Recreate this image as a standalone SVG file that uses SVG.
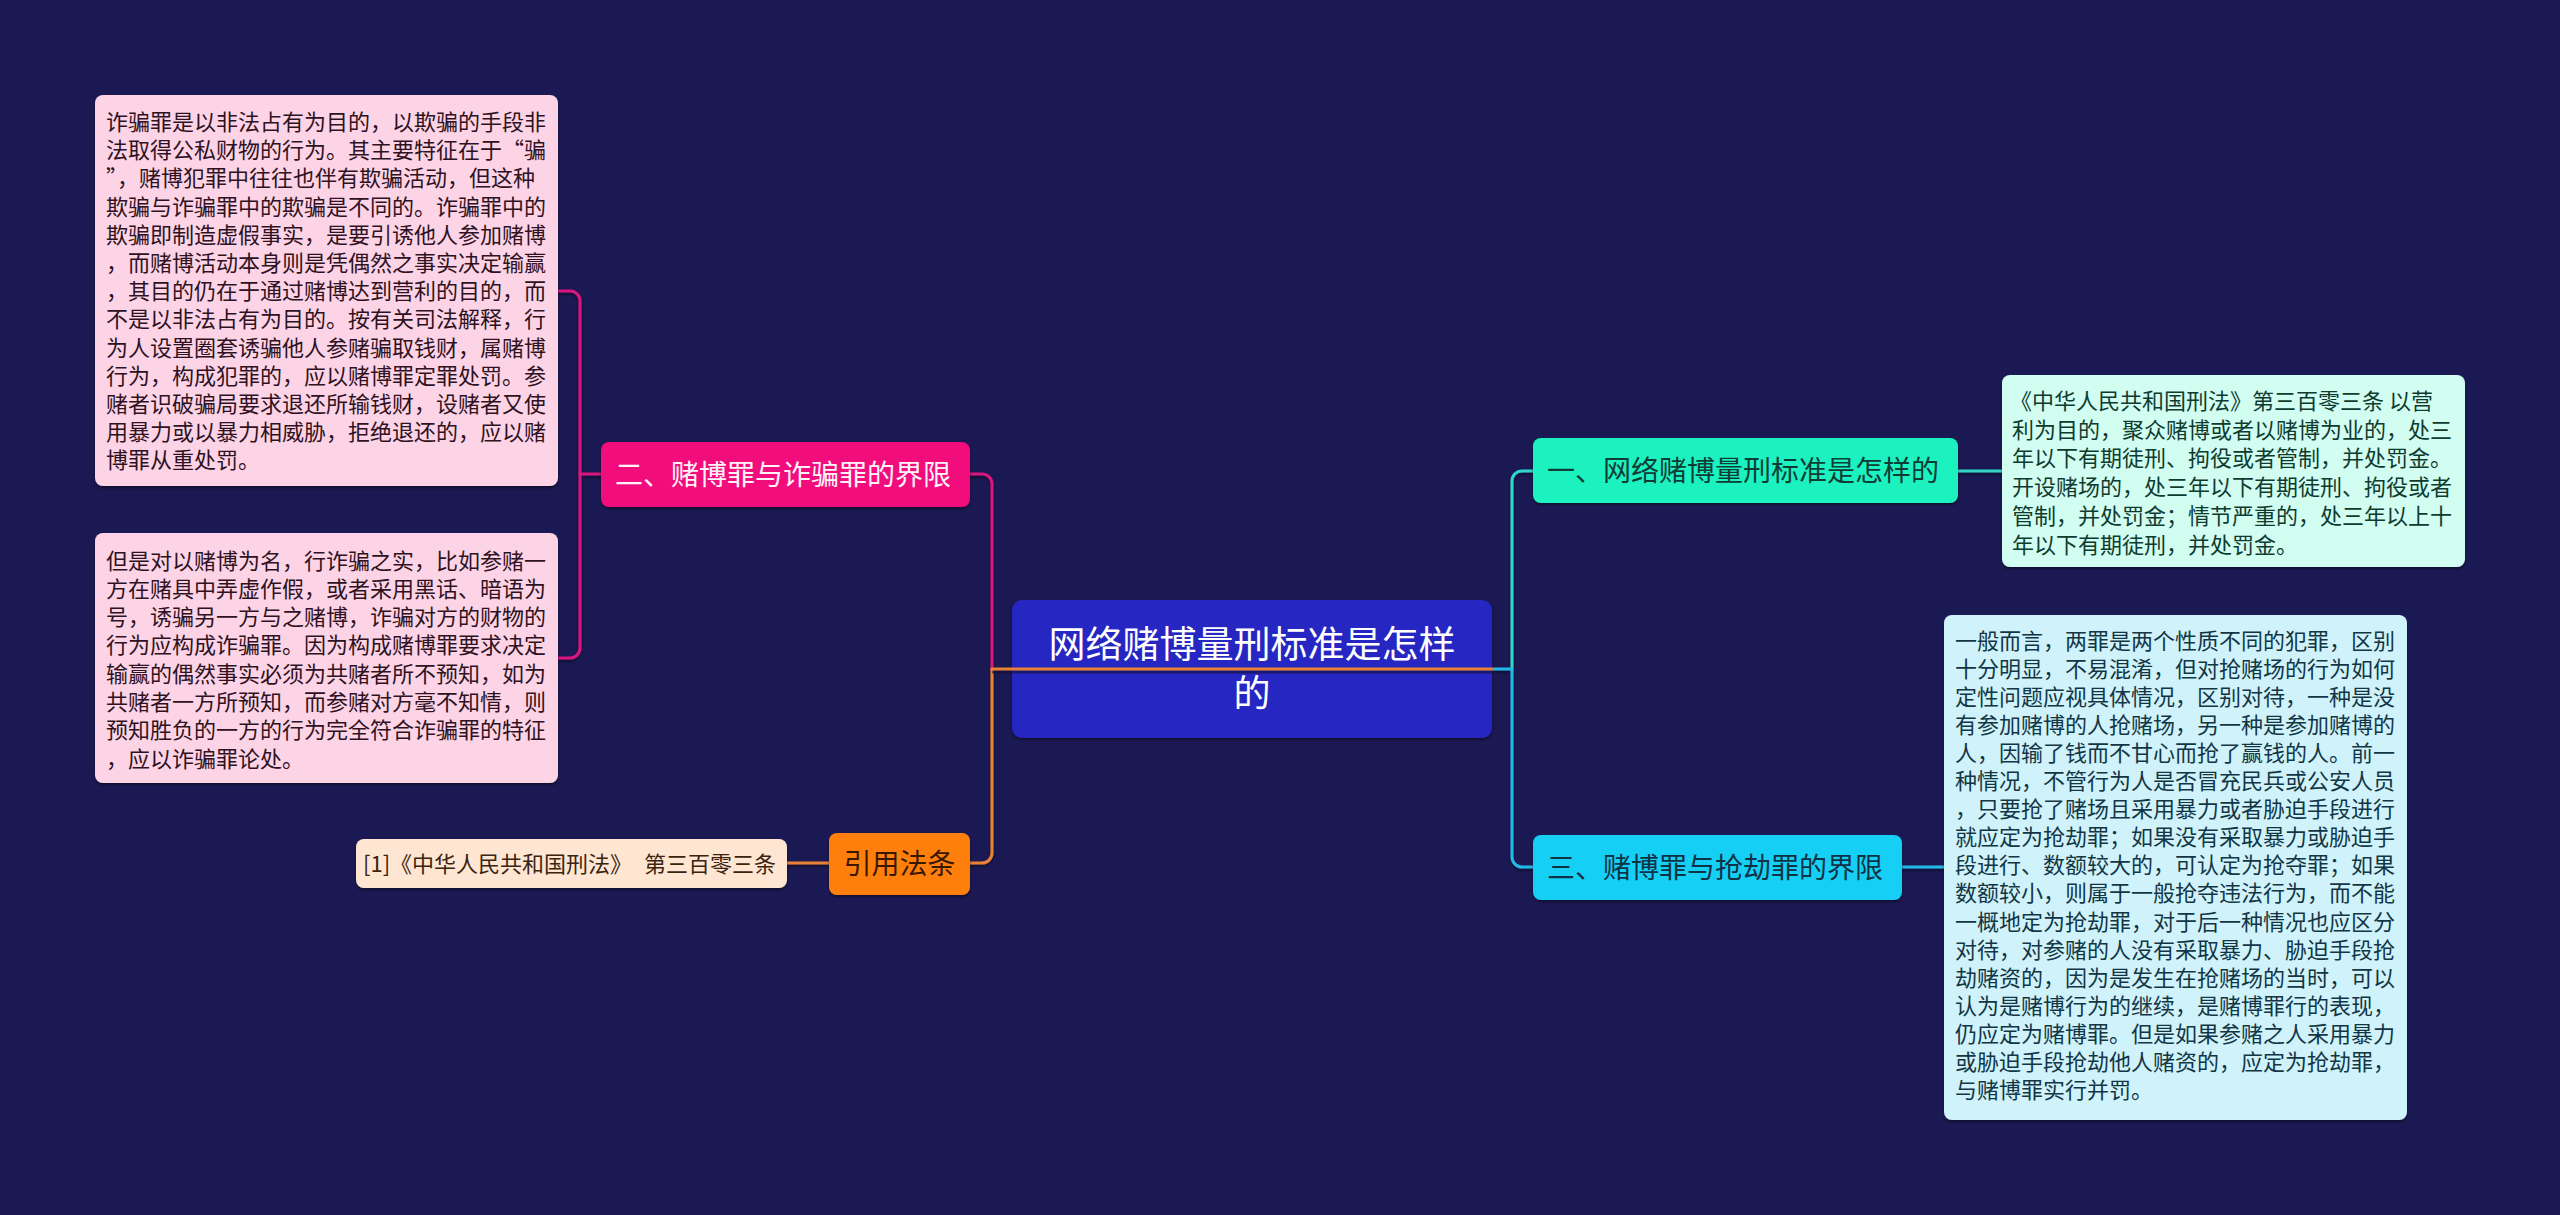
<svg xmlns="http://www.w3.org/2000/svg" width="2560" height="1215" viewBox="0 0 2560 1215">
<style>
text{font-family:"Noto Sans CJK SC","Noto Sans",sans-serif}
.leaf{font-size:22px}
.node{font-size:28px}
.ln{fill:none;stroke-width:3;stroke-linecap:round;stroke-linejoin:round}
.pink{stroke:#d9167f}
.org{stroke:#ea8135}
.teal{stroke:#30d6c9}
.blue{stroke:#22b9e8}
</style>
<defs>
<filter id="sh" x="-5%" y="-5%" width="110%" height="120%">
<feDropShadow dx="0" dy="2" stdDeviation="1.5" flood-color="#000000" flood-opacity="0.45"/>
</filter>
</defs>
<rect width="2560" height="1215" fill="#1b1953"/>

<g id="connectors" filter="url(#sh)">
<path class="ln pink" d="M558,291 H570 A10,10 0 0 1 580,301 V648 A10,10 0 0 1 570,658 H558"/>
<path class="ln pink" d="M580,474 H601"/>
<path class="ln pink" d="M970,474 H982 A10,10 0 0 1 992,484 V669"/>
<path class="ln org" d="M970,863 H982 A10,10 0 0 0 992,853 V669"/>
<path class="ln org" d="M829,863 H787"/>
<path class="ln teal" d="M1512,669 V481 A10,10 0 0 1 1522,471 H1533"/>
<path class="ln blue" d="M1492,669 H1512 V857 A10,10 0 0 0 1522,867 H1533"/>
<path class="ln teal" d="M1958,471 H2002"/>
<path class="ln blue" d="M1902,867 H1944"/>
</g>

<g id="central">
<rect x="1012" y="600" width="480" height="138" rx="10" fill="#2726c2" filter="url(#sh)"/>
<text x="1252" y="658" font-size="37" fill="#ffffff" text-anchor="middle">网络赌博量刑标准是怎样</text>
<text x="1252" y="707" font-size="37" fill="#ffffff" text-anchor="middle">的</text>
</g>
<g id="center-line">
<path d="M992,672 H1492" fill="none" stroke="#120f30" stroke-width="3" stroke-opacity="0.6"/>
<path class="ln org" d="M992,669 H1492"/>
</g>

<g id="n2">
<rect x="601" y="442" width="369" height="65" rx="8" fill="#f2077b" filter="url(#sh)"/>
<text class="node" x="615" y="485" fill="#fff2f8">二、赌博罪与诈骗罪的界限</text>
</g>

<g id="n-cite">
<rect x="829" y="833" width="141" height="62" rx="8" fill="#ff7f10" filter="url(#sh)"/>
<text class="node" x="899.5" y="874" fill="#3a1800" text-anchor="middle">引用法条</text>
</g>

<g id="n1">
<rect x="1533" y="438" width="425" height="65" rx="8" fill="#1cf2c0" filter="url(#sh)"/>
<text class="node" x="1547" y="481" fill="#0f3d36">一、网络赌博量刑标准是怎样的</text>
</g>

<g id="n3">
<rect x="1533" y="835" width="369" height="65" rx="8" fill="#12cff5" filter="url(#sh)"/>
<text class="node" x="1547" y="878" fill="#0f3345">三、赌博罪与抢劫罪的界限</text>
</g>

<g id="leaf-fraud1">
<rect x="95" y="95" width="463" height="391" rx="8" fill="#fdd4e6" filter="url(#sh)"/>
<text class="leaf" fill="#2e1222">
<tspan x="106" y="130">诈骗罪是以非法占有为目的，以欺骗的手段非</tspan>
<tspan x="106" y="158.2">法取得公私财物的行为。其主要特征在于“骗</tspan>
<tspan x="106" y="186.4">”，赌博犯罪中往往也伴有欺骗活动，但这种</tspan>
<tspan x="106" y="214.6">欺骗与诈骗罪中的欺骗是不同的。诈骗罪中的</tspan>
<tspan x="106" y="242.8">欺骗即制造虚假事实，是要引诱他人参加赌博</tspan>
<tspan x="106" y="271">，而赌博活动本身则是凭偶然之事实决定输赢</tspan>
<tspan x="106" y="299.2">，其目的仍在于通过赌博达到营利的目的，而</tspan>
<tspan x="106" y="327.4">不是以非法占有为目的。按有关司法解释，行</tspan>
<tspan x="106" y="355.6">为人设置圈套诱骗他人参赌骗取钱财，属赌博</tspan>
<tspan x="106" y="383.8">行为，构成犯罪的，应以赌博罪定罪处罚。参</tspan>
<tspan x="106" y="412">赌者识破骗局要求退还所输钱财，设赌者又使</tspan>
<tspan x="106" y="440.2">用暴力或以暴力相威胁，拒绝退还的，应以赌</tspan>
<tspan x="106" y="468.4">博罪从重处罚。</tspan>
</text>
</g>

<g id="leaf-fraud2">
<rect x="95" y="533" width="463" height="250" rx="8" fill="#fdd4e6" filter="url(#sh)"/>
<text class="leaf" fill="#2e1222">
<tspan x="106" y="568.5">但是对以赌博为名，行诈骗之实，比如参赌一</tspan>
<tspan x="106" y="596.8">方在赌具中弄虚作假，或者采用黑话、暗语为</tspan>
<tspan x="106" y="625.1">号，诱骗另一方与之赌博，诈骗对方的财物的</tspan>
<tspan x="106" y="653.4">行为应构成诈骗罪。因为构成赌博罪要求决定</tspan>
<tspan x="106" y="681.7">输赢的偶然事实必须为共赌者所不预知，如为</tspan>
<tspan x="106" y="710">共赌者一方所预知，而参赌对方毫不知情，则</tspan>
<tspan x="106" y="738.3">预知胜负的一方的行为完全符合诈骗罪的特征</tspan>
<tspan x="106" y="766.6">，应以诈骗罪论处。</tspan>
</text>
</g>

<g id="leaf-cite">
<rect x="356" y="839" width="431" height="49" rx="8" fill="#ffe6d3" filter="url(#sh)"/>
<text class="leaf" x="363" y="872" fill="#3a2410">[1]《中华人民共和国刑法》 <tspan x="644">第三百零三条</tspan></text>
</g>

<g id="leaf-law">
<rect x="2002" y="375" width="463" height="192" rx="8" fill="#d2fdf1" filter="url(#sh)"/>
<text class="leaf" fill="#0e3b30">
<tspan x="2010" y="409">《中华人民共和国刑法》第三百零三条 以营</tspan>
<tspan x="2012" y="437.7">利为目的，聚众赌博或者以赌博为业的，处三</tspan>
<tspan x="2012" y="466.4">年以下有期徒刑、拘役或者管制，并处罚金。</tspan>
<tspan x="2012" y="495.1">开设赌场的，处三年以下有期徒刑、拘役或者</tspan>
<tspan x="2012" y="523.8">管制，并处罚金；情节严重的，处三年以上十</tspan>
<tspan x="2012" y="552.5">年以下有期徒刑，并处罚金。</tspan>
</text>
</g>

<g id="leaf-robbery">
<rect x="1944" y="615" width="463" height="505" rx="8" fill="#cff2fb" filter="url(#sh)"/>
<text class="leaf" fill="#123645">
<tspan x="1955" y="648.5">一般而言，两罪是两个性质不同的犯罪，区别</tspan>
<tspan x="1955" y="676.6">十分明显，不易混淆，但对抢赌场的行为如何</tspan>
<tspan x="1955" y="704.7">定性问题应视具体情况，区别对待，一种是没</tspan>
<tspan x="1955" y="732.8">有参加赌博的人抢赌场，另一种是参加赌博的</tspan>
<tspan x="1955" y="760.9">人，因输了钱而不甘心而抢了赢钱的人。前一</tspan>
<tspan x="1955" y="789">种情况，不管行为人是否冒充民兵或公安人员</tspan>
<tspan x="1955" y="817.1">，只要抢了赌场且采用暴力或者胁迫手段进行</tspan>
<tspan x="1955" y="845.2">就应定为抢劫罪；如果没有采取暴力或胁迫手</tspan>
<tspan x="1955" y="873.3">段进行、数额较大的，可认定为抢夺罪；如果</tspan>
<tspan x="1955" y="901.4">数额较小，则属于一般抢夺违法行为，而不能</tspan>
<tspan x="1955" y="929.5">一概地定为抢劫罪，对于后一种情况也应区分</tspan>
<tspan x="1955" y="957.6">对待，对参赌的人没有采取暴力、胁迫手段抢</tspan>
<tspan x="1955" y="985.7">劫赌资的，因为是发生在抢赌场的当时，可以</tspan>
<tspan x="1955" y="1013.8">认为是赌博行为的继续，是赌博罪行的表现，</tspan>
<tspan x="1955" y="1041.9">仍应定为赌博罪。但是如果参赌之人采用暴力</tspan>
<tspan x="1955" y="1070">或胁迫手段抢劫他人赌资的，应定为抢劫罪，</tspan>
<tspan x="1955" y="1098.1">与赌博罪实行并罚。</tspan>
</text>
</g>
</svg>
